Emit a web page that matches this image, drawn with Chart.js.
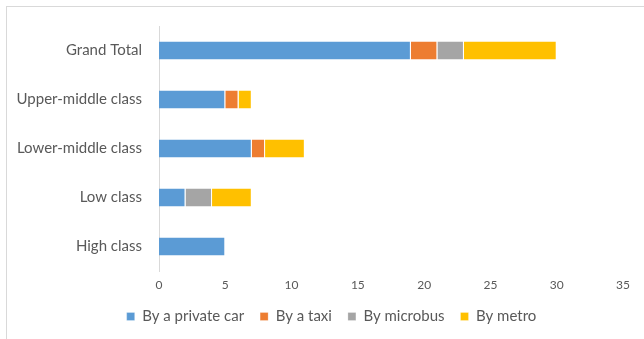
<!DOCTYPE html>
<html>
<head>
<meta charset="utf-8">
<script src="https://cdn.jsdelivr.net/npm/chart.js@4.4.1/dist/chart.umd.min.js"></script>
<style>
  html, body { margin: 0; padding: 0; background: #fff; overflow: hidden; }
  #frame {
    position: absolute; left: 6px; top: 6px; width: 700px; height: 400px;
    border: 1px solid #d9d9d9; box-sizing: border-box;
  }
  #wrap { position: absolute; left: 0; top: 0; width: 644px; height: 339px; }
</style>
</head>
<body>
<div id="frame"></div>
<div id="wrap"><canvas id="chart" width="644" height="339"></canvas></div>
<script>
// Trips by transport mode, per social class
const classes = ["Grand Total", "Upper-middle class", "Lower-middle class", "Low class", "High class"];
const privateCar = [19, 5, 7, 2, 5];
const taxi = [2, 1, 1, 0, 0];
const microbus = [2, 0, 0, 2, 0];
const metro = [7, 1, 3, 3, 0];

const FONT = "Lato, 'Liberation Sans', sans-serif";
const TEXT = "#595959";

function series(label, data, color) {
  return {
    label,
    data,
    backgroundColor: color,
    borderColor: "#ffffff",
    borderWidth: { top: 0, right: 1, bottom: 0, left: 0 },
    borderSkipped: false,
    barPercentage: 0.37,
    categoryPercentage: 1
  };
}

// nudge the legend to the right so it sits under the plot rather than the canvas
const legendShift = {
  id: "legendShift",
  afterLayout(chart) {
    const lg = chart.legend;
    if (!lg) return;
    lg.left += 20;
    lg.right += 20;
  }
};

new Chart(document.getElementById("chart"), {
  type: "bar",
  data: {
    labels: classes,
    datasets: [
      series("By a private car", privateCar, "#5b9bd5"),
      series("By a taxi", taxi, "#ed7d31"),
      series("By microbus", microbus, "#a5a5a5"),
      series("By metro", metro, "#ffc000")
    ]
  },
  plugins: [legendShift],
  options: {
    indexAxis: "y",
    responsive: false,
    animation: false,
    layout: { padding: { top: 21, right: 21, bottom: 5, left: 0 } },
    plugins: {
      tooltip: { enabled: false },
      legend: {
        position: "bottom",
        labels: {
          color: TEXT,
          font: { family: FONT, size: 15 },
          boxWidth: 8,
          boxHeight: 8,
          padding: 16
        }
      }
    },
    scales: {
      x: {
        stacked: true,
        min: 0,
        max: 35,
        ticks: { stepSize: 5, color: TEXT, font: { family: FONT, size: 12 }, padding: 7 },
        grid: { display: false, drawTicks: false },
        border: { display: false },
        afterFit: (axis) => { axis.height = 22; }
      },
      y: {
        stacked: true,
        ticks: { color: TEXT, font: { family: FONT, size: 15 }, padding: 17 },
        grid: { display: false, drawTicks: false },
        border: { display: true, color: "#d9d9d9", width: 1 },
        afterFit: (axis) => { axis.width = 159; }
      }
    }
  }
});
</script>
</body>
</html>
